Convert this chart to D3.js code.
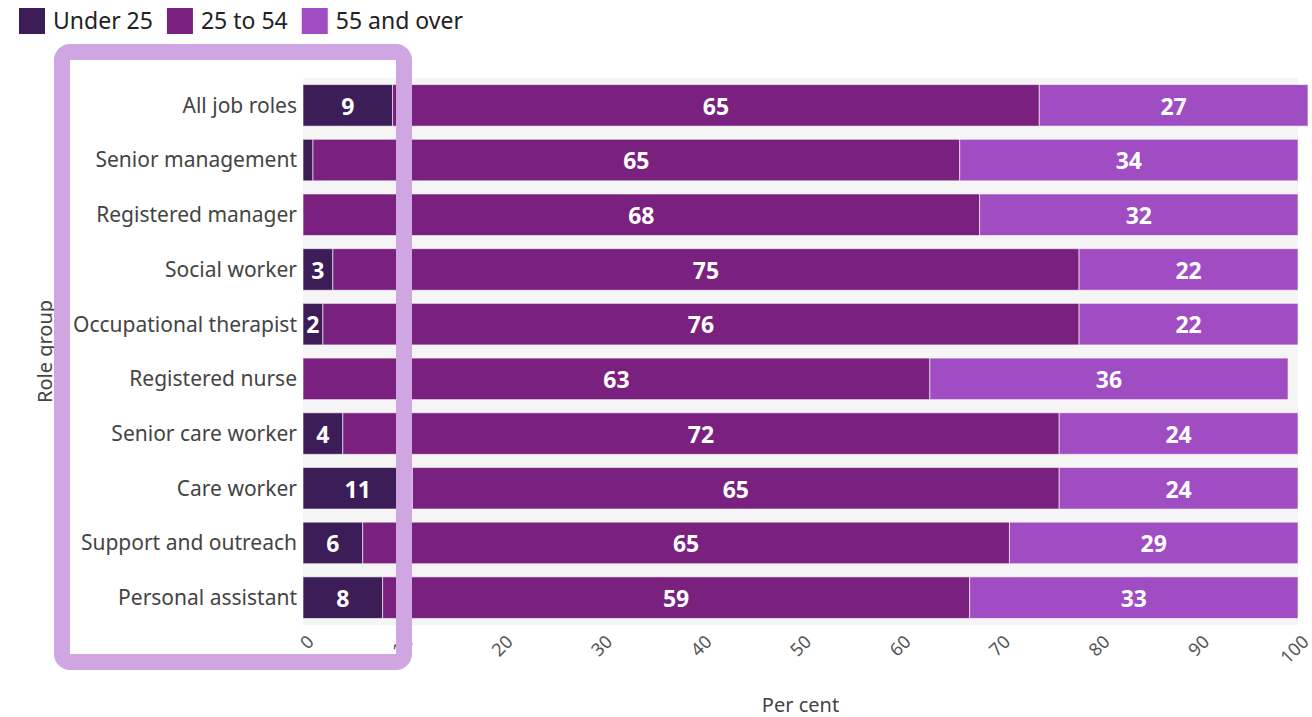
<!DOCTYPE html>
<html>
<head>
<meta charset="utf-8">
<script src="https://cdn.jsdelivr.net/npm/d3@7"></script>
<style>
  body { margin: 0; background: #fff; font-family: "Source Sans Pro", "Noto Sans", sans-serif; }
  .legend text { font-size: 23px; fill: #222; }
  .ylab { font-size: 21px; fill: #444; }
  .xtick { font-size: 18px; fill: #555; }
  .title { font-size: 20px; fill: #444; }
  .val { font-size: 23px; font-weight: bold; fill: #fff; }
</style>
</head>
<body>
<svg id="canvas" width="1312" height="717"></svg>
<script>
'use strict';

const roles = ['All job roles', 'Senior management', 'Registered manager', 'Social worker',
    'Occupational therapist', 'Registered nurse', 'Senior care worker', 'Care worker',
    'Support and outreach', 'Personal assistant'];
const under25 = [9, 1, 0, 3, 2, 0, 4, 11, 6, 8];
const age25to54 = [65, 65, 68, 75, 76, 63, 72, 65, 65, 59];
const over55 = [27, 34, 32, 22, 22, 36, 24, 24, 29, 33];
const seriesNames = ['Under 25', '25 to 54', '55 and over'];
const colors = ['#3c1d58', '#7a2180', '#a04cc3'];
const xTicks = [0, 10, 20, 30, 40, 50, 60, 70, 80, 90, 100];

document.addEventListener('DOMContentLoaded', function() {
    const svg = d3.select('#canvas');
    const margin = {left: 303, right: 14, top: 78, bottom: 92};
    const W = +svg.attr('width'), H = +svg.attr('height');

    const x = d3.scaleLinear().domain([0, 100]).range([margin.left, W - margin.right]);
    const y = d3.scaleBand().domain(roles).range([margin.top, H - margin.bottom])
        .paddingInner(0.24).paddingOuter(0.12);

    // plot background
    svg.append('rect')
        .attr('x', x(0)).attr('y', margin.top)
        .attr('width', x(100) - x(0)).attr('height', H - margin.bottom - margin.top)
        .attr('fill', '#f5f5f5');

    const rows = roles.map(function(r, i) {
        return {role: r, vals: [under25[i], age25to54[i], over55[i]]};
    });

    const g = svg.append('g');
    rows.forEach(function(row) {
        let acc = 0;
        row.vals.forEach(function(v, j) {
            const x0 = x(acc), x1 = x(acc + v);
            acc += v;
            if (v <= 0) return;
            g.append('rect')
                .attr('x', x0).attr('y', y(row.role))
                .attr('width', x1 - x0).attr('height', y.bandwidth())
                .attr('fill', colors[j])
                .attr('stroke', 'rgba(255,255,255,0.6)')
                .attr('stroke-width', 1);
            if (v >= 2) {
                g.append('text')
                    .attr('class', 'val')
                    .attr('x', (x0 + x1) / 2)
                    .attr('y', y(row.role) + y.bandwidth() / 2 + 1)
                    .attr('dy', '0.36em')
                    .attr('text-anchor', 'middle')
                    .text(v);
            }
        });
    });

    // y labels
    svg.append('g').selectAll('text')
        .data(roles).enter().append('text')
        .attr('class', 'ylab')
        .attr('x', margin.left - 6)
        .attr('y', function(d) { return y(d) + y.bandwidth() / 2; })
        .attr('dy', '0.35em')
        .attr('text-anchor', 'end')
        .text(function(d) { return d; });

    // x tick labels
    svg.append('g').selectAll('text')
        .data(xTicks).enter().append('text')
        .attr('class', 'xtick')
        .attr('text-anchor', 'end')
        .attr('transform', function(d) {
            return 'translate(' + (x(d) + 3) + ',' + (H - margin.bottom + 9) + ') rotate(-45)';
        })
        .attr('dy', '0.7em')
        .text(function(d) { return d; });

    svg.append('text')
        .attr('class', 'title')
        .attr('x', (x(0) + x(100)) / 2)
        .attr('y', 712)
        .attr('text-anchor', 'middle')
        .text('Per cent');

    svg.append('text')
        .attr('class', 'title')
        .attr('transform', 'translate(52,' + ((margin.top + H - margin.bottom) / 2) + ') rotate(-90)')
        .attr('text-anchor', 'middle')
        .text('Role group');

    // legend
    const legend = svg.append('g').attr('class', 'legend');
    let lx = 19;
    seriesNames.forEach(function(name, i) {
        legend.append('rect')
            .attr('x', lx).attr('y', 8).attr('width', 26).attr('height', 26)
            .attr('fill', colors[i]);
        const t = legend.append('text')
            .attr('x', lx + 34).attr('y', 21).attr('dy', '0.35em')
            .text(name);
        lx += 34 + t.node().getComputedTextLength() + 14;
    });

    // highlight box over the under-25 region
    svg.append('rect')
        .attr('x', 62).attr('y', 52)
        .attr('width', 342).attr('height', 610)
        .attr('rx', 8)
        .attr('fill', 'none')
        .attr('stroke', '#cfa5e2')
        .attr('stroke-width', 16);
});
</script>
</body>
</html>
